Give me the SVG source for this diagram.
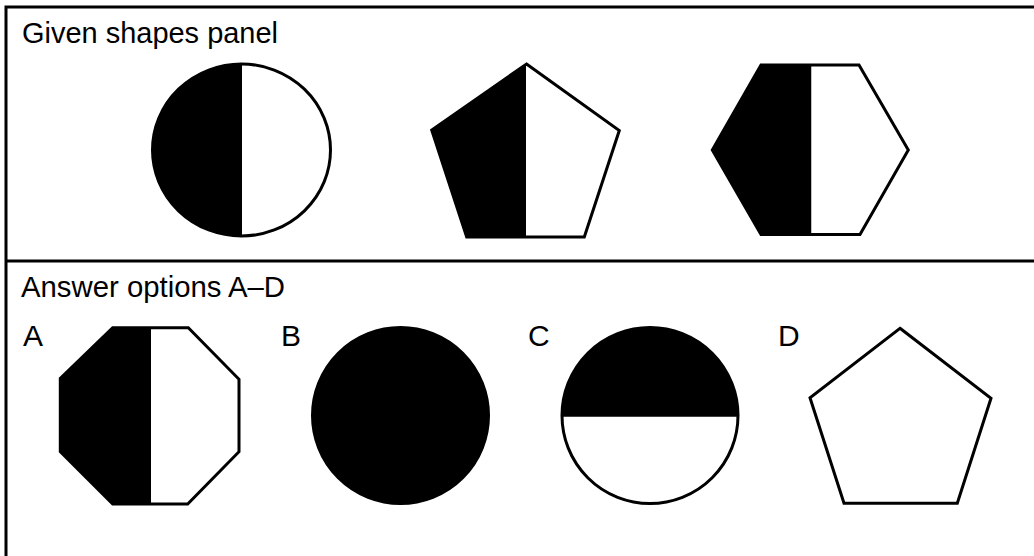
<svg xmlns="http://www.w3.org/2000/svg" width="1034" height="556" viewBox="0 0 1034 556">
<style>
.lbl{font-family:"Liberation Sans",Arial,sans-serif;font-size:30px;fill:#000}
.ol{fill:none;stroke:#000;stroke-width:3;stroke-linejoin:miter}
.blk{fill:#000;stroke:none}
.wht{fill:#fff;stroke:none}
.frame{fill:none;stroke:#000;stroke-width:3}
</style>
<rect x="0" y="0" width="1034" height="556" fill="#fff"/>
<g id="frame">
<path class="frame" d="M6,556 V7 H1034"/>
<line class="frame" x1="6" y1="261" x2="1034" y2="261"/>
</g>
<g id="panel-titles">
<text class="lbl" x="22" y="43" textLength="256" lengthAdjust="spacingAndGlyphs">Given shapes panel</text>
<text class="lbl" x="21" y="297" textLength="264" lengthAdjust="spacingAndGlyphs">Answer options A–D</text>
</g>
<g id="given-circle">
<clipPath id="cc1"><rect x="100" y="50" width="142" height="200"/></clipPath>
<ellipse cx="241.5" cy="150" rx="89" ry="86" class="wht"/>
<ellipse cx="241.5" cy="150" rx="89" ry="86" class="blk" clip-path="url(#cc1)"/>
<ellipse cx="241.5" cy="150" rx="89" ry="86" class="ol"/>
</g>
<g id="given-pentagon">
<polygon points="431.7,130 526.5,64 526.5,237 466.7,237" class="blk"/>
<polygon points="526,64 619.3,130.5 584.3,237 526,237" class="wht"/>
<polygon points="526.5,64 619.3,130.5 584.3,237 466.7,237 431.7,130" class="ol"/>
</g>
<g id="given-hexagon">
<polygon points="761,65 811.5,65 811.5,234.5 761,234.5 712.3,150" class="blk"/>
<polygon points="811.5,65 859,65 908.3,150 860,234.5 811.5,234.5" class="wht"/>
<polygon points="761,65 859,65 908.3,150 860,234.5 761,234.5 712.3,150" class="ol"/>
</g>
<g id="option-A">
<text class="lbl" x="23" y="346">A</text>
<polygon points="112.7,327.7 151,327.7 151,504 112.7,504 60.3,451.7 60.3,378.5" class="blk"/>
<polygon points="151,327.7 188.3,327.7 239,379.3 239,451.7 187.7,504 151,504" class="wht"/>
<polygon points="112.7,327.7 188.3,327.7 239,379.3 239,451.7 187.7,504 112.7,504 60.3,451.7 60.3,378.5" class="ol"/>
</g>
<g id="option-B">
<text class="lbl" x="281" y="346">B</text>
<circle cx="400.5" cy="415.5" r="88" fill="#000" stroke="#000" stroke-width="3"/>
</g>
<g id="option-C">
<text class="lbl" x="528" y="346">C</text>
<clipPath id="cc2"><rect x="550" y="320" width="200" height="96.7"/></clipPath>
<circle cx="650" cy="415.5" r="88" class="wht"/>
<circle cx="650" cy="415.5" r="88" class="blk" clip-path="url(#cc2)"/>
<circle cx="650" cy="415.5" r="88" class="ol"/>
</g>
<g id="option-D">
<text class="lbl" x="778" y="346">D</text>
<polygon points="900,328.3 991,398.3 957.3,503.3 844,503.3 810,397.7" class="ol" style="fill:#fff"/>
</g>
</svg>
